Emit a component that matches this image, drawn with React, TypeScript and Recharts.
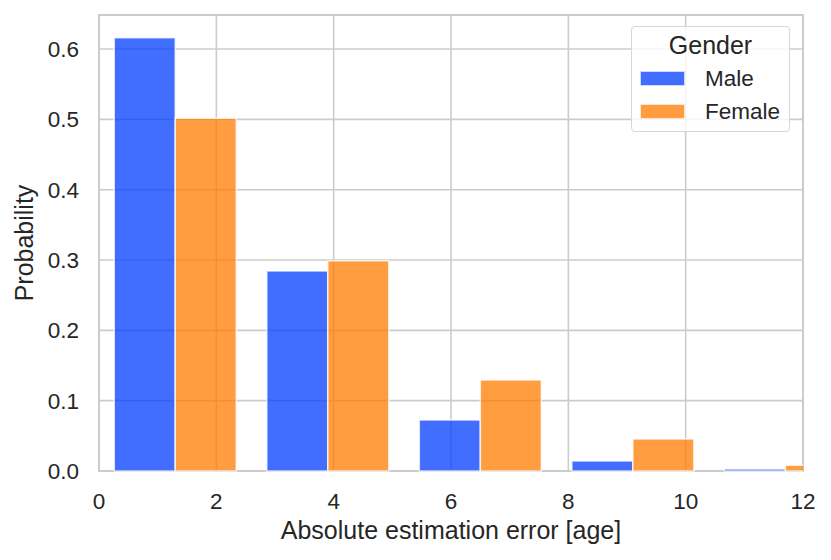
import { BarChart, Bar, XAxis, YAxis, CartesianGrid, ReferenceArea, Label } from "recharts";

// histogram bins (width 2.6), dodged by gender
const binCenters = [1.3, 3.9, 6.5, 9.1, 11.7];
const maleProb = [0.616, 0.2844, 0.0725, 0.0143, 0.003];
const femaleProb = [0.5015, 0.299, 0.1294, 0.0455, 0.008];
const xTicks = [0, 2, 4, 6, 8, 10, 12];
const yTicks = [0, 0.1, 0.2, 0.3, 0.4, 0.5, 0.6];
const Y_MAX = 0.6484;

const series = [
  { key: "male", name: "Male", color: "#023eff" },
  { key: "female", name: "Female", color: "#ff7c00" },
];

const data = binCenters.map((x, i) => ({ x, male: maleProb[i], female: femaleProb[i] }));

const FONT = "'Liberation Sans', Arial, Helvetica, sans-serif";
const INK = "#262626";
const GRID = "#cccccc";

export default function App() {
  return (
    <div style={{ position: "absolute", left: 0, top: 0, width: 831, height: 560, background: "#fff", fontFamily: FONT }}>
      <BarChart
        width={831}
        height={560}
        data={data}
        margin={{ top: 15, right: 28, bottom: 0, left: 0 }}
        barCategoryGap="10%"
        barGap={0}
      >
        <CartesianGrid stroke={GRID} strokeWidth={1.6} />
        <XAxis
          dataKey="x"
          type="number"
          domain={[0, 12]}
          ticks={xTicks}
          allowDataOverflow
          height={89}
          tickLine={false}
          tickSize={0}
          tickMargin={22}
          axisLine={false}
          tick={{ fill: INK, fontSize: 22.5, fontFamily: FONT }}
        >
          <Label
            value="Absolute estimation error [age]"
            position="insideBottom"
            offset={21}
            fill={INK}
            fontSize={25}
            fontFamily={FONT}
          />
        </XAxis>
        <YAxis
          type="number"
          domain={[0, Y_MAX]}
          ticks={yTicks}
          width={99}
          tickLine={false}
          tickSize={0}
          tickMargin={20}
          axisLine={false}
          tickFormatter={(v: number) => v.toFixed(1)}
          tick={{ fill: INK, fontSize: 22.5, fontFamily: FONT }}
        >
          <Label
            content={({ viewBox }: any) => {
              const cx = viewBox.x + 33;
              const cy = viewBox.y + viewBox.height / 2;
              return (
                <text
                  x={cx}
                  y={cy}
                  transform={`rotate(-90, ${cx}, ${cy})`}
                  textAnchor="middle"
                  fill={INK}
                  fontSize={25}
                  fontFamily={FONT}
                >
                  Probability
                </text>
              );
            }}
          />
        </YAxis>
        {series.map((s) => (
          <Bar
            key={s.key}
            dataKey={s.key}
            name={s.name}
            fill={s.color}
            fillOpacity={0.75}
            stroke="#ffffff"
            strokeOpacity={0.75}
            strokeWidth={1.5}
            isAnimationActive={false}
          />
        ))}
        <ReferenceArea
          x1={0}
          x2={12}
          y1={0}
          y2={Y_MAX}
          fill="none"
          stroke={GRID}
          strokeWidth={2}
          ifOverflow="visible"
        />
      </BarChart>
      {/* legend box, top right inside the plot */}
      <div
        style={{
          position: "absolute",
          left: 631,
          top: 26,
          width: 157,
          height: 104,
          border: "1.5px solid #d6d6d6",
          borderRadius: 4,
          background: "rgba(255,255,255,0.8)",
          color: INK,
          boxSizing: "content-box",
        }}
      >
        <div
          style={{
            position: "absolute",
            left: 0,
            right: 0,
            top: 5.5,
            textAlign: "center",
            fontSize: 25,
            lineHeight: "25px",
            whiteSpace: "nowrap",
          }}
        >
          Gender
        </div>
        {series.map((s, i) => (
          <div key={s.key}>
            <span
              style={{
                position: "absolute",
                left: 8,
                top: 43.5 + i * 33.3,
                width: 45,
                height: 15,
                background: s.color,
                opacity: 0.75,
                border: "1px solid rgba(255,255,255,0.75)",
                boxSizing: "border-box",
              }}
            />
            <span
              style={{
                position: "absolute",
                left: 73,
                top: 40.5 + i * 33,
                fontSize: 22.5,
                lineHeight: "22.5px",
                whiteSpace: "nowrap",
              }}
            >
              {s.name}
            </span>
          </div>
        ))}
      </div>
    </div>
  );
}
